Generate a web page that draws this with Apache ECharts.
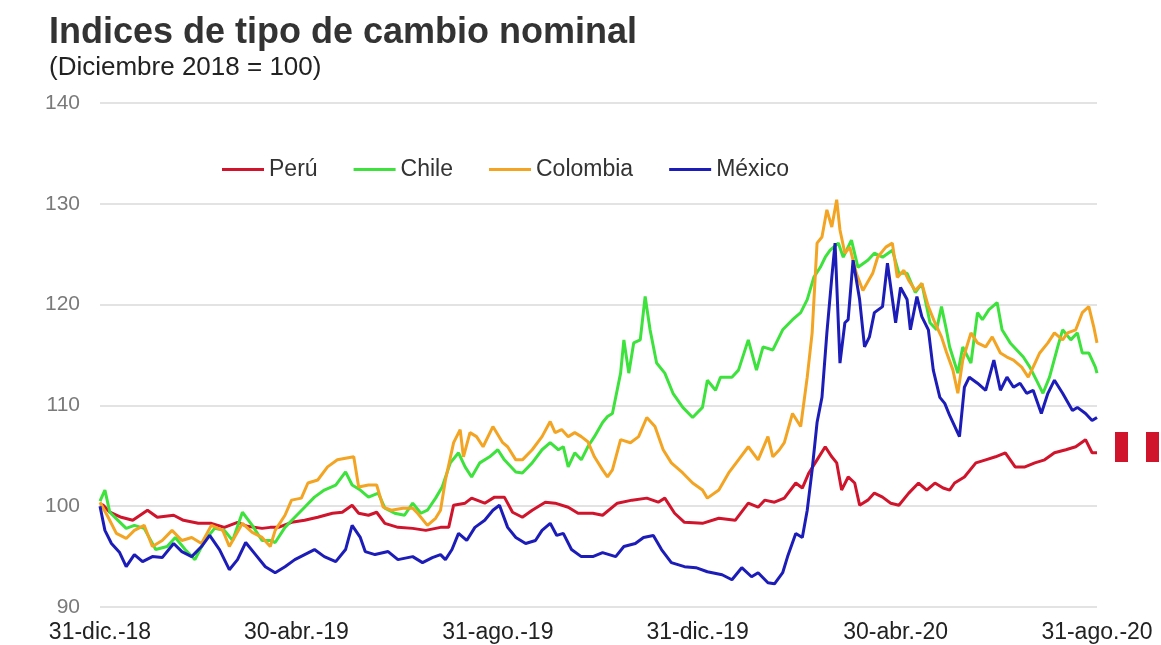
<!DOCTYPE html>
<html>
<head>
<meta charset="utf-8">
<script src="https://cdn.jsdelivr.net/npm/echarts@6/dist/echarts.min.js"></script>
<style>
html,body{margin:0;padding:0;background:#fff;}
#chart{width:1161px;height:645px;}
</style>
</head>
<body>
<div id="chart"></div>
<script>
// x-axis tick labels and their positions (days since 31-dic-18)
const tickLabels = ['31-dic.-18','30-abr.-19','31-ago.-19','31-dic.-19','30-abr.-20','31-ago.-20'];
const tickDays = [0,120,243,365,486,609];

// Perú
const peruDays = [0,2,6,13,20,29,35,45,51,60,68,76,84,90,99,104,109,117,125,133,142,148,154,158,164,169,174,182,191,199,208,213,216,223,227,235,241,247,252,258,264,272,278,286,292,301,307,316,325,334,341,345,351,357,368,378,388,396,402,406,412,418,425,429,433,438,443,447,450,453,457,461,464,469,473,478,483,488,494,500,505,510,515,519,522,528,535,541,547,553,559,565,571,577,583,590,596,602,606,609];
const peruValues = [100.2,100.1,99.4,98.9,98.6,99.6,98.9,99.1,98.6,98.3,98.3,97.9,98.4,98.0,97.8,97.9,97.9,98.4,98.6,98.9,99.3,99.4,100.1,99.3,99.1,99.4,98.3,97.9,97.8,97.6,97.9,97.9,100.1,100.3,100.8,100.3,100.9,100.9,99.4,98.9,99.6,100.4,100.3,99.9,99.3,99.3,99.1,100.3,100.6,100.8,100.4,100.8,99.3,98.4,98.3,98.8,98.6,100.3,99.9,100.6,100.4,100.8,102.3,101.8,103.3,104.6,105.9,104.9,104.3,101.6,102.9,102.3,100.1,100.6,101.3,100.9,100.3,100.1,101.3,102.3,101.6,102.3,101.8,101.6,102.3,102.9,104.3,104.6,104.9,105.3,103.9,103.9,104.3,104.6,105.3,105.6,105.9,106.6,105.3,105.3];

// Chile
const chileDays = [0,3,6,11,16,21,27,34,41,46,52,58,64,70,76,81,87,93,99,104,107,113,119,125,131,137,144,150,154,159,164,170,174,180,186,191,196,200,205,209,214,219,223,227,232,238,243,247,254,258,264,270,275,280,283,286,290,294,298,302,307,310,313,318,320,323,326,330,333,336,340,345,350,356,362,368,371,376,379,386,390,396,401,405,411,417,423,428,432,436,440,443,446,451,454,459,463,469,473,478,484,488,493,498,502,507,511,514,517,519,524,527,532,536,539,543,548,551,556,560,564,568,572,576,580,585,588,593,597,600,604,608,609];
const chileValues = [100.5,101.6,99.4,98.6,97.8,98.1,97.8,95.7,96.0,96.9,95.7,94.7,96.6,97.8,97.6,96.6,99.4,98.1,96.6,96.6,96.4,97.9,98.9,99.9,100.9,101.6,102.1,103.4,102.1,101.6,100.9,101.3,99.8,99.3,99.1,100.3,99.3,99.6,100.8,101.9,104.3,105.3,103.9,102.9,104.3,104.9,105.6,104.6,103.4,103.3,104.3,105.6,106.3,105.6,105.9,103.9,105.3,104.6,105.9,106.9,108.3,108.9,109.2,113.2,116.5,113.2,116.2,116.5,120.8,117.5,114.2,113.2,111.2,109.8,108.8,109.8,112.5,111.5,112.8,112.8,113.5,116.5,113.5,115.8,115.5,117.5,118.5,119.2,120.5,122.7,123.7,124.7,125.4,126.1,124.7,126.4,123.7,124.4,125.1,124.7,125.4,123.1,123.1,121.2,122.1,118.2,117.5,119.8,117.5,115.8,113.2,115.8,114.2,119.2,118.5,119.5,120.2,117.5,116.2,115.5,114.8,113.8,112.5,111.2,112.8,115.8,117.5,116.5,117.2,115.2,115.2,113.8,113.2];

// Colombia
const colombiaDays = [0,5,10,16,21,27,32,38,44,50,56,62,68,75,79,87,93,99,104,107,113,117,123,127,133,139,145,155,158,164,169,173,178,185,191,194,200,205,208,211,216,220,222,226,230,234,240,246,249,254,258,264,270,275,278,282,286,290,294,298,302,307,310,313,318,324,329,334,339,344,349,356,362,368,371,378,384,390,396,402,408,411,415,418,423,428,432,435,438,441,444,447,450,452,455,458,462,466,472,475,480,484,487,491,494,498,502,506,510,514,517,521,524,527,532,536,541,545,550,554,558,563,567,570,574,579,583,588,591,596,600,604,607,609];
const colombiaValues = [100.4,98.9,97.3,96.8,97.6,98.1,96.0,96.6,97.6,96.6,96.9,96.3,98.1,97.6,96.0,98.3,97.4,96.9,96.0,97.6,99.1,100.6,100.8,102.3,102.6,103.9,104.6,104.9,101.9,102.1,102.1,99.9,99.6,99.8,99.8,99.3,98.1,98.8,99.6,102.6,106.3,107.6,104.9,107.3,106.9,105.9,107.9,106.3,105.9,104.6,104.6,105.6,106.9,108.4,107.3,107.6,106.9,107.3,106.9,106.4,104.9,103.6,102.9,103.6,106.6,106.3,106.9,108.8,107.9,105.6,104.3,103.3,102.3,101.6,100.8,101.6,103.3,104.6,105.9,104.6,106.9,104.9,105.6,106.3,109.2,107.9,112.8,117.2,126.1,126.7,129.4,127.7,130.4,127.4,125.1,125.7,123.1,121.4,123.1,124.7,125.7,126.1,122.7,123.4,122.4,121.4,122.1,119.8,118.2,116.8,115.3,113.5,111.2,114.5,117.2,116.2,115.8,116.8,115.2,114.8,114.5,113.8,112.8,113.8,115.2,116.2,117.2,116.5,117.2,117.5,119.2,119.8,117.8,116.2];

// México
const mexicoDays = [0,1,3,7,12,16,21,26,32,38,45,50,56,62,67,73,79,84,89,95,101,107,113,119,125,131,137,144,150,154,159,162,168,176,182,191,197,203,208,211,215,219,224,229,235,240,244,249,254,260,266,270,275,279,283,288,294,301,307,311,315,320,327,332,338,343,349,357,364,371,380,386,392,398,402,408,412,417,420,425,429,432,435,438,441,444,447,449,452,455,457,460,464,467,470,473,478,481,486,489,493,495,499,502,506,509,513,516,519,525,528,531,536,541,546,550,554,558,562,566,570,575,579,583,588,594,597,602,606,609];
const mexicoValues = [100.0,99.9,97.6,96.3,95.4,94.0,95.2,94.5,95.0,94.9,96.3,95.5,95.0,96.0,97.1,95.7,93.7,94.7,96.4,95.2,94.0,93.4,94.0,94.7,95.2,95.7,95.0,94.5,95.7,98.1,96.9,95.5,95.2,95.5,94.7,95.0,94.4,94.9,95.2,94.7,95.7,97.3,96.6,97.9,98.6,99.6,100.1,97.9,96.9,96.3,96.6,97.6,98.3,97.1,97.3,95.7,95.0,95.0,95.4,95.2,95.0,96.0,96.3,96.9,97.1,95.7,94.4,94.0,93.9,93.5,93.2,92.7,93.9,93.0,93.4,92.4,92.3,93.4,95.0,97.3,96.9,99.6,103.6,108.3,110.8,117.2,122.7,126.1,114.2,118.2,118.5,124.4,120.5,115.8,116.8,119.2,119.8,124.1,118.2,121.7,120.5,117.5,120.8,118.8,117.5,113.5,110.8,110.2,109.0,106.9,111.8,112.8,112.2,111.5,114.5,111.5,112.8,111.8,112.2,111.2,111.5,109.2,111.2,112.5,111.2,109.5,109.8,109.2,108.5,108.8];

const seriesNames = ['Perú','Chile','Colombia','México'];
const seriesColors = ['#d0142c','#3de23d','#f2a422','#1c1cb8'];
const allDays = [peruDays, chileDays, colombiaDays, mexicoDays];
const allValues = [peruValues, chileValues, colombiaValues, mexicoValues];

const FONT = '"Liberation Sans", Arial, sans-serif';
const chart = echarts.init(document.getElementById('chart'), null, {renderer:'canvas'});

const series = seriesNames.map((name, i) => ({
  name: name,
  type: 'line',
  showSymbol: false,
  symbol: 'none',
  data: allDays[i].map((d, j) => [d, allValues[i][j]]),
  lineStyle: {width: 3, color: seriesColors[i]},
  itemStyle: {color: seriesColors[i]},
  animation: false
}));

chart.setOption({
  backgroundColor: '#ffffff',
  animation: false,
  title: {
    text: 'Indices de tipo de cambio nominal',
    subtext: '(Diciembre 2018 = 100)',
    left: 44,
    top: 10,
    itemGap: 4,
    textStyle: {fontFamily: FONT, fontSize: 36, fontWeight: 'bold', color: '#333333'},
    subtextStyle: {fontFamily: FONT, fontSize: 26, color: '#222222'}
  },
  legend: {
    data: seriesNames,
    left: 217,
    top: 153,
    itemWidth: 42,
    itemHeight: 3,
    itemGap: 36,
    icon: 'rect',
    textStyle: {fontFamily: FONT, fontSize: 23, color: '#333333'}
  },
  grid: {left: 100, right: 64, top: 103, bottom: 38, containLabel: false},
  xAxis: {
    type: 'value',
    min: 0,
    max: 609,
    axisLine: {show: false},
    axisTick: {show: false},
    splitLine: {show: false},
    axisLabel: {
      customValues: tickDays,
      showMinLabel: true,
      showMaxLabel: true,
      margin: 14,
      fontFamily: FONT,
      fontSize: 23,
      color: '#222222',
      formatter: function (v) { const k = tickDays.indexOf(v); return k >= 0 ? tickLabels[k] : ''; }
    }
  },
  yAxis: {
    type: 'value',
    min: 90,
    max: 140,
    interval: 10,
    axisLine: {show: false},
    axisTick: {show: false},
    splitLine: {show: true, lineStyle: {color: '#e3e3e3', width: 2}},
    axisLabel: {fontFamily: FONT, fontSize: 21, color: '#7a7a7a', margin: 20}
  },
  graphic: [
    {type: 'rect', left: 1115, top: 432, shape: {width: 13, height: 30}, style: {fill: '#d0142c'}},
    {type: 'rect', left: 1146, top: 432, shape: {width: 13, height: 30}, style: {fill: '#d0142c'}}
  ],
  series: series
});
</script>
</body>
</html>
